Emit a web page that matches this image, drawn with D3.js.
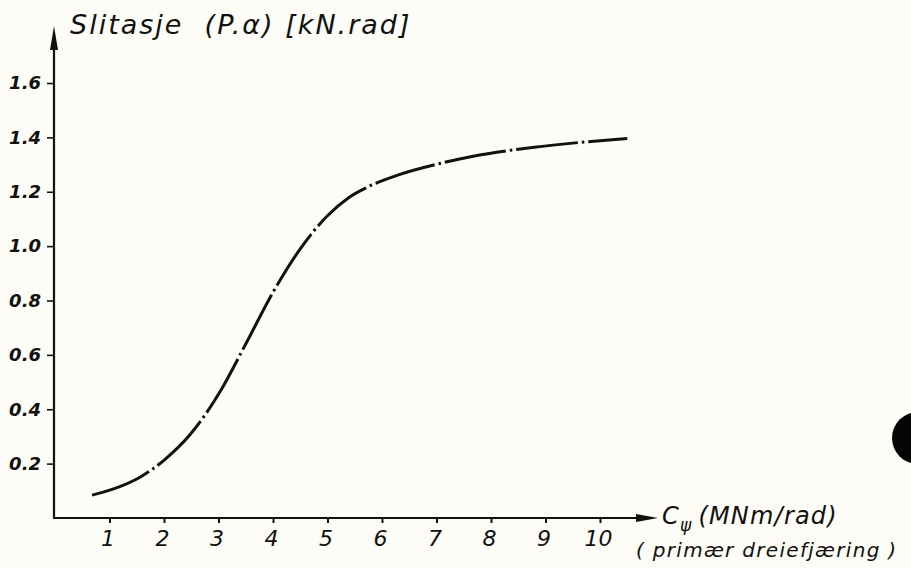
<!DOCTYPE html>
<html>
<head>
<meta charset="utf-8">
<script src="https://cdn.jsdelivr.net/npm/d3@7"></script>
<style>
  body { margin: 0; background: #fdfcf6; }
  svg { display: block; }
  .lbl { font-family: "DejaVu Sans", sans-serif; font-style: italic; fill: #111; }
</style>
</head>
<body>
<svg id="chart"></svg>
<script>
const width = 911, height = 568;

// curve
const stiffness = [0.68, 1.06, 1.56, 2.02, 2.48, 3.03, 3.5, 4.0, 4.5, 4.99, 5.4, 5.72, 6.3, 7.06, 7.65, 8.9, 10.0, 10.5];
const wear = [0.084, 0.106, 0.15, 0.216, 0.307, 0.465, 0.64, 0.83, 0.99, 1.11, 1.18, 1.216, 1.262, 1.304, 1.33, 1.366, 1.388, 1.396];

const xTicks = [1, 2, 3, 4, 5, 6, 7, 8, 9, 10];
const yTicks = [0.2, 0.4, 0.6, 0.8, 1.0, 1.2, 1.4, 1.6];

const svg = d3.select("#chart").attr("width", width).attr("height", height);

const x = d3.scaleLinear().domain([0, 10]).range([55, 600]);
const y = d3.scaleLinear().domain([0, 1.6]).range([518, 83]);

// x axis
const xAxis = svg.append("g")
  .attr("transform", `translate(0,${y(0)})`)
  .call(d3.axisBottom(x).tickValues(xTicks).tickSize(5).tickSizeOuter(0).tickFormat(d3.format("d")));
xAxis.select(".domain").remove();
xAxis.selectAll("line").attr("stroke", "#111").attr("stroke-width", 2);
xAxis.selectAll("text").attr("class", "lbl").attr("font-size", 22).attr("dy", "0.92em").attr("x", -2).attr("fill", "#111");

// y axis
const yAxis = svg.append("g")
  .attr("transform", `translate(${x(0) - 1},0)`)
  .call(d3.axisLeft(y).tickValues(yTicks).tickSize(7).tickSizeOuter(0).tickFormat(d3.format(".1f")));
yAxis.select(".domain").remove();
yAxis.selectAll("line").attr("stroke", "#111").attr("stroke-width", 1.6);
yAxis.selectAll("text").attr("class", "lbl").attr("font-size", 18).attr("font-weight", "bold")
  .attr("x", -13).attr("fill", "#111");

// axis lines with arrows
svg.append("line").attr("x1", x(0) - 1).attr("x2", 640).attr("y1", y(0)).attr("y2", y(0))
  .attr("stroke", "#111").attr("stroke-width", 2.2);
svg.append("path").attr("d", `M636,${y(0) - 4}L658,${y(0)}L636,${y(0) + 4}Z`).attr("fill", "#111");
svg.append("line").attr("x1", x(0) - 1).attr("x2", x(0) - 1).attr("y1", y(0) + 1).attr("y2", 45)
  .attr("stroke", "#111").attr("stroke-width", 2.2);
svg.append("path").attr("d", `M${x(0) - 5},50L${x(0) - 1},26L${x(0) + 3},50Z`).attr("fill", "#111");

// curve
const pts = stiffness.map((v, i) => [v, wear[i]]);
svg.append("path")
  .datum(pts)
  .attr("fill", "none")
  .attr("stroke", "#111")
  .attr("stroke-width", 3)
  .attr("stroke-dasharray", "62,4,2.5,4")
  .attr("d", d3.line().x(d => x(d[0])).y(d => y(d[1])).curve(d3.curveMonotoneX));

// titles
svg.append("text").attr("class", "lbl").attr("x", 70).attr("y", 34).attr("font-size", 27)
  .attr("letter-spacing", 2).attr("xml:space", "preserve").text("Slitasje  (P.α) [kN.rad]");

const xl = svg.append("text").attr("class", "lbl").attr("x", 662).attr("y", 524).attr("font-size", 24)
  .attr("letter-spacing", 1.2);
xl.append("tspan").text("C");
xl.append("tspan").attr("font-size", 17).attr("dy", 7).text("ψ");
xl.append("tspan").attr("dy", -7).attr("dx", 6).text("(MNm/rad)");

svg.append("text").attr("class", "lbl").attr("x", 636).attr("y", 557).attr("font-size", 20)
  .attr("letter-spacing", 1.3).attr("xml:space", "preserve").text("( primær dreiefjæring )");

// punch hole at the right edge
svg.append("circle").attr("cx", 918).attr("cy", 438).attr("r", 26).attr("fill", "#050505");
</script>
</body>
</html>
